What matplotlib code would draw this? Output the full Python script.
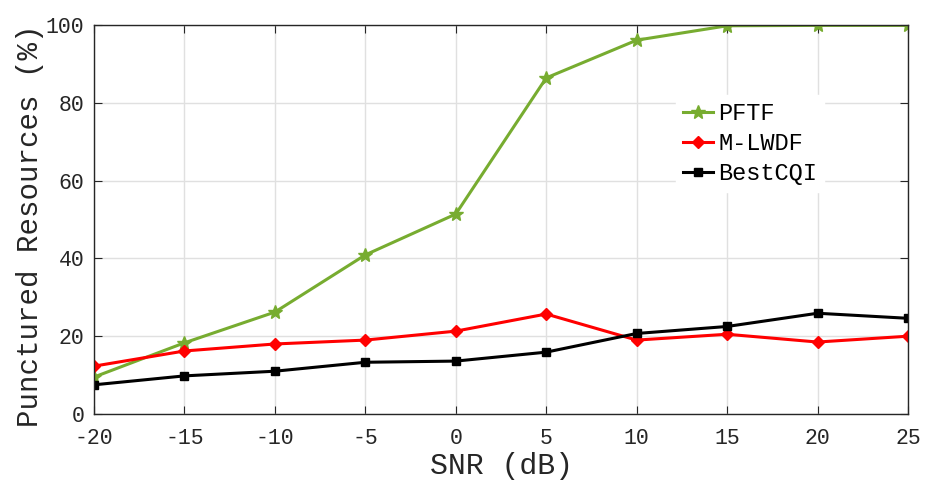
import matplotlib
matplotlib.use("Agg")
import matplotlib.pyplot as plt

snr = [-20, -15, -10, -5, 0, 5, 10, 15, 20, 25]
pftf = [9.5, 18.3, 26.2, 40.9, 51.4, 86.4, 96.1, 99.8, 99.9, 99.9]
mlwdf = [12.3, 16.2, 18.0, 19.0, 21.3, 25.7, 19.0, 20.5, 18.5, 20.0]
bestcqi = [7.5, 9.8, 11.0, 13.3, 13.6, 15.9, 20.7, 22.5, 25.9, 24.6]
xticks = [-20, -15, -10, -5, 0, 5, 10, 15, 20, 25]
yticks = [0, 20, 40, 60, 80, 100]

plt.rcParams['font.family'] = ['Liberation Mono', 'DejaVu Sans']

W, H = 935, 484
fig = plt.figure(figsize=(W/100, H/100), dpi=100)
ax = fig.add_axes([94/W, 1-414/H, (908-94)/W, (414-25)/H])

ax.plot(snr, pftf, color='#77AC30', lw=2.2, marker='*', ms=10, label='PFTF')
ax.plot(snr, mlwdf, color='#FF0000', lw=2.2, marker='D', ms=6, label='M-LWDF')
ax.plot(snr, bestcqi, color='#000000', lw=2.2, marker='s', ms=6, label='BestCQI')

ax.set_xlim(-20, 25)
ax.set_ylim(0, 100)
ax.set_xticks(xticks)
ax.set_yticks(yticks)
ax.set_xticklabels([str(v) for v in xticks])
ax.tick_params(direction='in', top=True, right=True, labelsize=15.5, length=6, color='#262626', labelcolor='#262626', pad=7)
ax.tick_params(axis='x', pad=10)
ax.grid(True, color='#e0e0e0', lw=1)
ax.set_axisbelow(True)
for s in ax.spines.values():
    s.set_color('#262626')
    s.set_linewidth(1)

ax.set_xlabel('SNR (dB)', fontsize=21.5, color='#262626', labelpad=2)
ax.set_ylabel('Punctured Resources (%)', fontsize=21, color='#262626')
ax.yaxis.set_label_coords(-0.062, 0.485)

leg = ax.legend(loc='upper left', bbox_to_anchor=(0.70, 0.851), frameon=True, fontsize=17,
                handlelength=1.3, handletextpad=0.2, labelspacing=0.3, borderpad=0.3)
leg.get_frame().set_edgecolor('white')
leg.get_frame().set_facecolor('white')
leg.get_frame().set_alpha(1)

fig.savefig('out.png', dpi=100)
